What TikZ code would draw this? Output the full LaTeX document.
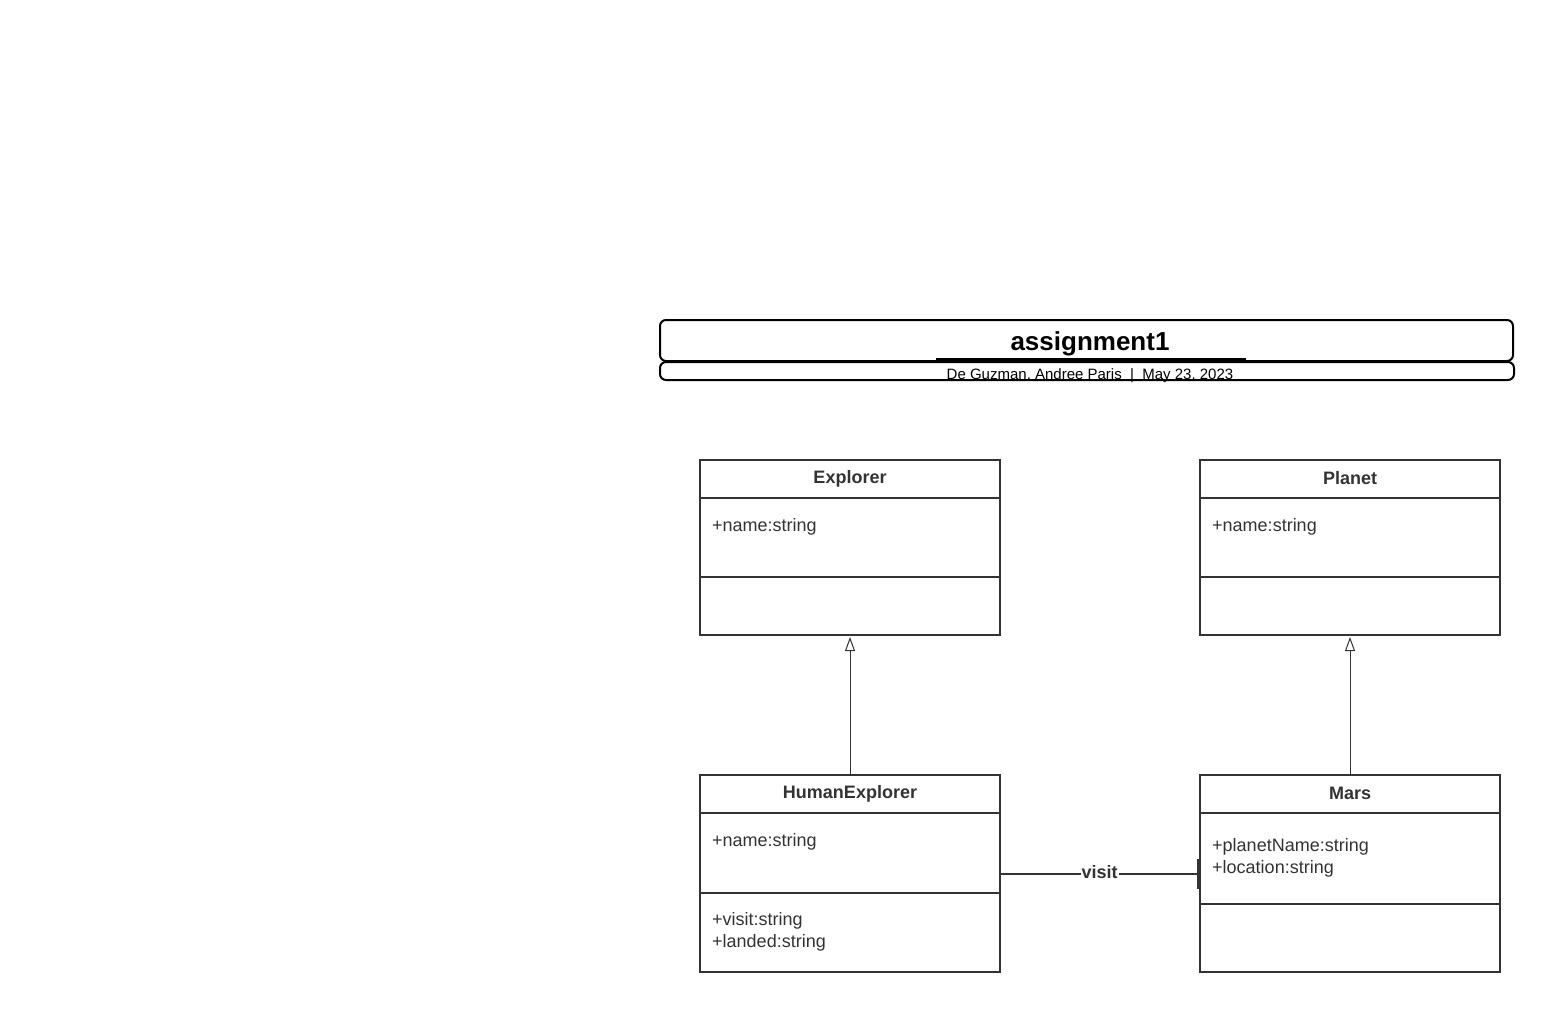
\documentclass[tikz,border=0pt]{standalone}
\usepackage{fontspec}
\setmainfont{Liberation Sans}
\usetikzlibrary{arrows.meta}
\definecolor{umlgrey}{HTML}{333333}
\tikzset{
  classbox/.style={draw=umlgrey, line width=2pt, minimum width=300pt, anchor=north west, inner sep=0pt, outer sep=0pt},
  divider/.style={draw=umlgrey, line width=1.6pt},
  classname/.style={font=\fontsize{18}{22}\selectfont\bfseries, text=umlgrey},
  attr/.style={font=\fontsize{18}{22}\selectfont, text=umlgrey, anchor=west, align=left, inner sep=0pt},
  titlebox/.style={draw=black, line width=2pt, rounded corners=6pt},
  extends/.style={draw=umlgrey, line width=1pt, -{Triangle[open, length=14pt, width=10pt]}, shorten >=2pt},
  assoc/.style={draw=umlgrey, line width=1.6pt, -{Bar[width=30pt, line width=1.6pt]}}
}
\begin{document}
\begin{tikzpicture}[x=1pt,y=-1pt]
  \useasboundingbox (0,0) rectangle (1554,1012);
  % title block
  \draw[titlebox] (660,320) rectangle (1513,361);
  \node[font=\fontsize{26}{30}\selectfont\bfseries] (title) at (1090,344) {assignment1};
  \draw[line width=1.5pt] (936,359) -- (1246,359);
  \node[font=\fontsize{15}{18}\selectfont, inner sep=0pt] (author) at (1090,376) {De Guzman, Andree Paris\ \ |\ \ May 23, 2023};
  \draw[titlebox] (660,362) rectangle (1514,380);
  % classes
  \node[classbox, minimum height=175pt] (explorer) at (700,460) {};
  \node[classname] at (850,479) {Explorer};
  \draw[divider] (700,498) -- (1000,498);
  \draw[divider] (700,577) -- (1000,577);
  \node[attr] at (712,527) {+name:string};

  \node[classbox, minimum height=175pt] (planet) at (1200,460) {};
  \node[classname] at (1350,478) {Planet};
  \draw[divider] (1200,498) -- (1500,498);
  \draw[divider] (1200,577) -- (1500,577);
  \node[attr] at (1212,527) {+name:string};

  \node[classbox, minimum height=197pt] (humanexplorer) at (700,775) {};
  \node[classname] at (850,794) {HumanExplorer};
  \draw[divider] (700,813) -- (1000,813);
  \draw[divider] (700,893) -- (1000,893);
  \node[attr] at (712,842) {+name:string};
  \node[attr] at (712,932) {+visit:string\\+landed:string};

  \node[classbox, minimum height=197pt] (mars) at (1200,775) {};
  \node[classname] at (1350,793) {Mars};
  \draw[divider] (1200,813) -- (1500,813);
  \draw[divider] (1200,904) -- (1500,904);
  \node[attr] at (1212,858) {+planetName:string\\+location:string};

  % connectors
  \draw[extends] (humanexplorer.north) -- (explorer.south);
  \draw[extends] (mars.north) -- (planet.south);
  \draw[assoc] (humanexplorer.east |- 0,874) -- node[fill=white, inner sep=1pt, classname, yshift=2pt] {visit} ([xshift=-1pt]mars.west |- 0,874);
\end{tikzpicture}
\end{document}
